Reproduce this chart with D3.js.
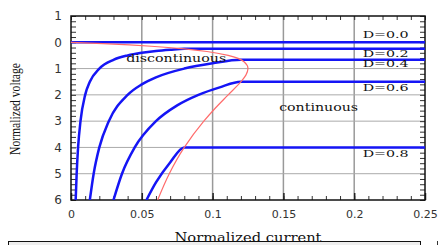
<!DOCTYPE html>
<html>
<head>
<meta charset="utf-8">
<script src="https://cdn.jsdelivr.net/npm/d3@7"></script>
<style>
  body { margin: 0; background: #fff; }
  svg { display: block; }
</style>
</head>
<body>
<div id="chart"></div>
<script>
// values: [normalized current, normalized voltage]
const curveD00 = [[0, 0], [0.25, 0]];
const curveD02 = [[0.0033, 6], [0.004, 5], [0.005, 4], [0.0067, 3], [0.01, 2], [0.0133, 1.5],
  [0.02, 1], [0.03, 0.667], [0.04, 0.5], [0.05, 0.4], [0.06, 0.333], [0.07, 0.286], [0.08, 0.25], [0.25, 0.25]];
const curveD04 = [[0.0133, 6], [0.016, 5], [0.02, 4], [0.0267, 3], [0.04, 2], [0.05, 1.6],
  [0.06, 1.333], [0.08, 1], [0.1, 0.8], [0.12, 0.667], [0.25, 0.667]];
const curveD06 = [[0.03, 6], [0.036, 5], [0.045, 4], [0.06, 3], [0.075, 2.4], [0.09, 2],
  [0.105, 1.714], [0.12, 1.5], [0.25, 1.5]];
const curveD08 = [[0.0533, 6], [0.06, 5.333], [0.07, 4.571], [0.08, 4], [0.25, 4]];
const boundary = [[0, 0], [0.0227, 0.05], [0.0413, 0.1], [0.0567, 0.15], [0.08, 0.25], [0.096, 0.35],
  [0.111, 0.5], [0.1224, 0.75], [0.125, 1], [0.1235, 1.25], [0.12, 1.5], [0.111, 2], [0.102, 2.5],
  [0.0938, 3], [0.08, 4], [0.0694, 5], [0.0612, 6]];

const xTicks = [0, 0.05, 0.1, 0.15, 0.2, 0.25];
const xTickLabels = ['0', '0.05', '0.1', '0.15', '0.2', '0.25'];
const yTicks = [-1, 0, 1, 2, 3, 4, 5, 6];
const yTickLabels = ['1', '0', '1', '2', '3', '4', '5', '6'];

const dLabels = ['D=0.0', 'D=0.2', 'D=0.4', 'D=0.6', 'D=0.8'];
const dLabelVolts = [-0.18, 0.56, 0.95, 1.85, 4.35];

const width = 441;
const height = 245;
const margins = { top: 16, bottom: 45, left: 71, right: 16 };

const svg = d3.select('#chart').append('svg')
  .attr('width', width)
  .attr('height', height);

svg.append('rect')
  .attr('width', width)
  .attr('height', height)
  .attr('fill', '#fff');

const xScale = d3.scaleLinear()
  .domain([0, 0.25])
  .range([margins.left, width - margins.right]);

const yScale = d3.scaleLinear()
  .domain([-1, 6])
  .range([margins.top, height - margins.bottom]);

const plotLeft = xScale(0);
const plotRight = xScale(0.25);
const plotTop = yScale(-1);
const plotBottom = yScale(6);

// grid
const grid = svg.append('g').attr('class', 'grid');
grid.selectAll('.vgrid')
  .data(xTicks.slice(1, -1))
  .enter().append('line')
  .attr('x1', (d) => xScale(d))
  .attr('x2', (d) => xScale(d))
  .attr('y1', plotTop)
  .attr('y2', plotBottom)
  .style('stroke', '#999')
  .style('stroke-width', 1.5);

grid.selectAll('.hgrid')
  .data(yTicks.slice(1, -1))
  .enter().append('line')
  .attr('x1', plotLeft)
  .attr('x2', plotRight)
  .attr('y1', (d) => yScale(d))
  .attr('y2', (d) => yScale(d))
  .style('stroke', '#aaa')
  .style('stroke-width', 1);

// minor ticks, inside on all four sides
const xMinor = d3.range(0, 0.2501, 0.01);
const yMinor = d3.range(-1, 6.001, 0.2);

const xBottom = d3.axisTop(xScale).tickValues(xMinor).tickSize(4).tickFormat('');
const xTop = d3.axisBottom(xScale).tickValues(xMinor).tickSize(4).tickFormat('');
const yLeft = d3.axisRight(yScale).tickValues(yMinor).tickSize(5).tickFormat('');
const yRight = d3.axisLeft(yScale).tickValues(yMinor).tickSize(5).tickFormat('');

svg.append('g').attr('transform', `translate(0,${plotBottom})`).call(xBottom);
svg.append('g').attr('transform', `translate(0,${plotTop})`).call(xTop);
svg.append('g').attr('transform', `translate(${plotLeft},0)`).call(yLeft);
svg.append('g').attr('transform', `translate(${plotRight},0)`).call(yRight);

svg.selectAll('.domain').remove();
svg.selectAll('.tick line').style('stroke', '#333').style('stroke-width', 1);

// major ticks on bottom
svg.append('g').attr('transform', `translate(0,${plotBottom})`)
  .call(d3.axisTop(xScale).tickValues(xTicks).tickSize(7).tickFormat(''))
  .call((g) => g.select('.domain').remove())
  .selectAll('.tick line').style('stroke', '#222').style('stroke-width', 1.5);

// frame
svg.append('rect')
  .attr('x', plotLeft)
  .attr('y', plotTop)
  .attr('width', plotRight - plotLeft)
  .attr('height', plotBottom - plotTop)
  .style('fill', 'none')
  .style('stroke', '#111')
  .style('stroke-width', 1.5);

// tick labels
const xLabelAxis = d3.axisBottom(xScale)
  .tickValues(xTicks)
  .tickSize(0)
  .tickPadding(10)
  .tickFormat((d, i) => xTickLabels[i]);

svg.append('g')
  .attr('transform', `translate(0,${plotBottom})`)
  .call(xLabelAxis)
  .call((g) => g.select('.domain').remove())
  .selectAll('text')
  .style('font-family', 'DejaVu Sans, sans-serif')
  .style('font-size', '11px')
  .style('fill', '#333');

const yLabelAxis = d3.axisLeft(yScale)
  .tickValues(yTicks)
  .tickSize(0)
  .tickPadding(9)
  .tickFormat((d, i) => yTickLabels[i]);

svg.append('g')
  .attr('transform', `translate(${plotLeft},0)`)
  .call(yLabelAxis)
  .call((g) => g.select('.domain').remove())
  .selectAll('text')
  .style('font-family', 'DejaVu Sans, sans-serif')
  .style('font-size', '12px')
  .style('fill', '#333');

// curves
svg.append('clipPath').attr('id', 'plotClip')
  .append('rect')
  .attr('x', plotLeft)
  .attr('y', plotTop)
  .attr('width', plotRight - plotLeft)
  .attr('height', plotBottom - plotTop);

const lineGroup = svg.append('g').attr('clip-path', 'url(#plotClip)');

const blueLine = d3.line()
  .x((d) => xScale(d[0]))
  .y((d) => yScale(d[1]))
  .curve(d3.curveMonotoneX);

const redLine = d3.line()
  .x((d) => xScale(d[0]))
  .y((d) => yScale(d[1]))
  .curve(d3.curveMonotoneY);

[curveD00, curveD02, curveD04, curveD06, curveD08].forEach((c) => {
  lineGroup.append('path')
    .attr('d', blueLine(c))
    .style('fill', 'none')
    .style('stroke', '#1515f5')
    .style('stroke-width', 2.5);
});

lineGroup.append('path')
  .attr('d', redLine(boundary))
  .style('fill', 'none')
  .style('stroke', '#ff6b6b')
  .style('stroke-width', 1.2);

// annotations
const annotations = svg.append('g')
  .style('font-family', 'DejaVu Serif, serif')
  .style('fill', '#111');

annotations.selectAll('.dLabel')
  .data(dLabels)
  .enter().append('text')
  .attr('x', xScale(0.206))
  .attr('y', (d, i) => yScale(dLabelVolts[i]))
  .attr('textLength', 46)
  .attr('lengthAdjust', 'spacingAndGlyphs')
  .style('font-size', '9.5px')
  .text((d) => d);

annotations.append('text')
  .attr('x', xScale(0.039))
  .attr('y', yScale(0.75))
  .attr('textLength', 100)
  .attr('lengthAdjust', 'spacingAndGlyphs')
  .style('font-size', '11px')
  .text('discontinuous');

annotations.append('text')
  .attr('x', xScale(0.147))
  .attr('y', yScale(2.6))
  .attr('textLength', 79)
  .attr('lengthAdjust', 'spacingAndGlyphs')
  .style('font-size', '11px')
  .text('continuous');

// axis titles
svg.append('text')
  .attr('transform', `translate(20,${(63 + 155) / 2}) rotate(-90)`)
  .attr('text-anchor', 'middle')
  .attr('textLength', 92)
  .attr('lengthAdjust', 'spacingAndGlyphs')
  .style('font-family', 'Liberation Serif, serif')
  .style('font-size', '15px')
  .style('fill', '#111')
  .text('Normalized voltage');

svg.append('text')
  .attr('x', 248)
  .attr('y', 242)
  .attr('text-anchor', 'middle')
  .attr('textLength', 147)
  .attr('lengthAdjust', 'spacingAndGlyphs')
  .style('font-family', 'DejaVu Serif, serif')
  .style('font-size', '12px')
  .style('fill', '#111')
  .text('Normalized current');

// box cut off at the bottom edge
svg.append('rect')
  .attr('x', 8.5)
  .attr('y', 241.5)
  .attr('width', 412)
  .attr('height', 10)
  .style('fill', '#eee')
  .style('stroke', '#111')
  .style('stroke-width', 1);

svg.append('line')
  .attr('x1', 437.5)
  .attr('x2', 437.5)
  .attr('y1', 241)
  .attr('y2', 245)
  .style('stroke', '#333');
</script>
</body>
</html>
